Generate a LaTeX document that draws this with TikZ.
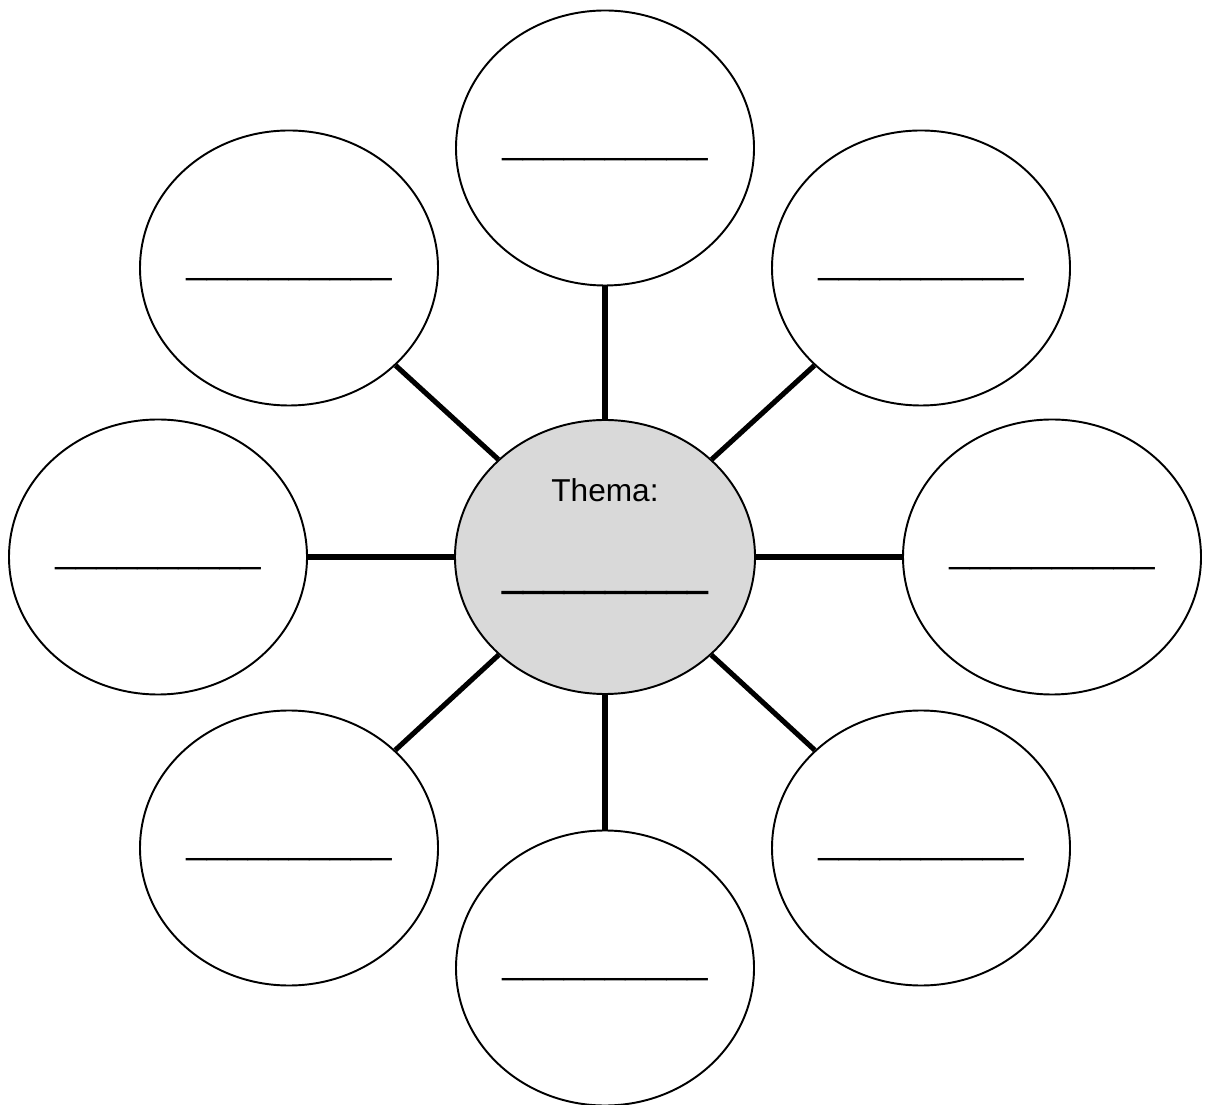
\documentclass[tikz,border=0pt]{standalone}
\usepackage{fontspec}
\setmainfont{Liberation Sans}
\newfontfamily\heavyblank[FakeBold=2.5]{Liberation Sans}
\usetikzlibrary{shapes.geometric}
\newcommand{\blankline}{\_\_\_\_\_\_\_\_\_\_}
\tikzstyle{bubble}=[draw, ellipse, line width=1.1pt,
    minimum width=5.96cm, minimum height=5.5cm, inner sep=0pt]
\tikzstyle{blank}=[inner sep=0pt, font=\fontsize{21}{21}\selectfont]
\tikzstyle{spoke}=[line width=2.9pt]

\begin{document}
\begin{tikzpicture}
  \useasboundingbox (0,0) rectangle (24.14,22.08);
  % centre
  \node at (12.10, 10.94) (thema)[bubble, fill=black!15, minimum width=6cm, minimum height=5.48cm] {};
    \path (thema.center) +(0,1.34) node (tt)[inner sep=0pt, font=\fontsize{18}{18}\selectfont] {Thema:};
    \path (thema.center) +(0,-0.66) node (tb)[blank, font=\fontsize{21}{21}\heavyblank] {\blankline};
  % outer ring
  \node at (12.10, 19.12) (n)[bubble] {};
  \node at (18.42, 16.72) (ne)[bubble] {};
  \node at (21.04, 10.94) (e)[bubble] {};
  \node at (18.42, 5.12) (se)[bubble] {};
  \node at (12.10, 2.72) (s)[bubble] {};
  \node at (5.78, 5.12) (sw)[bubble] {};
  \node at (3.16, 10.94) (w)[bubble] {};
  \node at (5.78, 16.72) (nw)[bubble] {};
    \path (n.center) +(0,-0.18) node (nb)[blank] {\blankline};
    \path (ne.center) +(0,-0.18) node (neb)[blank] {\blankline};
    \path (e.center) +(0,-0.18) node (eb)[blank] {\blankline};
    \path (se.center) +(0,-0.18) node (seb)[blank] {\blankline};
    \path (s.center) +(0,-0.18) node (sb)[blank] {\blankline};
    \path (sw.center) +(0,-0.18) node (swb)[blank] {\blankline};
    \path (w.center) +(0,-0.18) node (wb)[blank] {\blankline};
    \path (nw.center) +(0,-0.18) node (nwb)[blank] {\blankline};
  % spokes
  \draw[spoke] (thema) -- (n);
  \draw[spoke] (thema) -- (ne);
  \draw[spoke] (thema) -- (e);
  \draw[spoke] (thema) -- (se);
  \draw[spoke] (thema) -- (s);
  \draw[spoke] (thema) -- (sw);
  \draw[spoke] (thema) -- (w);
  \draw[spoke] (thema) -- (nw);
\end{tikzpicture}
\end{document}
